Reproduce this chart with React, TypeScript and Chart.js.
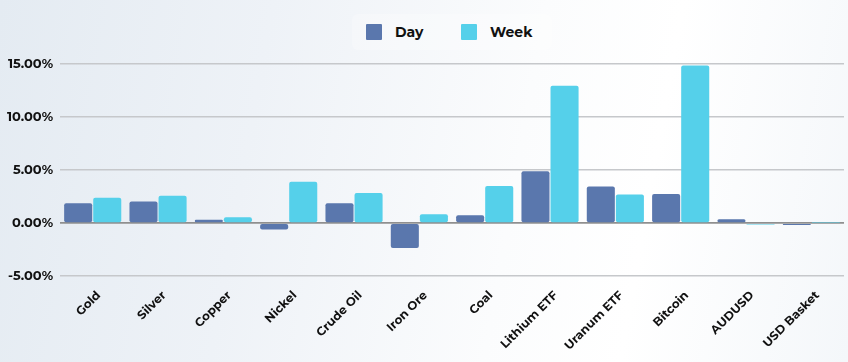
import React, { useEffect, useRef } from "react";
import { Chart, registerables } from "chart.js";

Chart.register(...registerables);

const categories = ["Gold", "Silver", "Copper", "Nickel", "Crude Oil", "Iron Ore", "Coal", "Lithium ETF", "Uranum ETF", "Bitcoin", "AUDUSD", "USD Basket"];
const dayValues = [1.87, 2.03, 0.31, -0.59, 1.87, -2.33, 0.75, 4.9, 3.45, 2.75, 0.37, -0.17];
const weekValues = [2.4, 2.59, 0.56, 3.9, 2.84, 0.84, 3.5, 12.95, 2.7, 14.85, -0.12, 0.05];
const seriesNames = ["Day", "Week"];
const seriesColors = ["#5a77ad", "#55d0ea"];

const font = "Montserrat, Poppins, 'Open Sans', sans-serif";

export default function App() {
  const ref = useRef<HTMLCanvasElement>(null);
  useEffect(() => {
    const chart = new Chart(ref.current!, {
      type: "bar",
      data: {
        labels: categories,
        datasets: [
          { label: seriesNames[0], data: dayValues, backgroundColor: seriesColors[0], borderRadius: 2, borderSkipped: false, barPercentage: 0.965, categoryPercentage: 0.89 },
          { label: seriesNames[1], data: weekValues, backgroundColor: seriesColors[1], borderRadius: 2, borderSkipped: false, barPercentage: 0.965, categoryPercentage: 0.89 },
        ],
      },
      options: {
        animation: false,
        responsive: false,
        layout: { padding: { top: 64, right: 4, left: 0, bottom: 5 } },
        plugins: {
          legend: { display: false },
          tooltip: { enabled: false },
        },
        scales: {
          x: {
            grid: { display: false },
            border: { display: false },
            ticks: {
              maxRotation: 45,
              minRotation: 45,
              padding: 4,
              labelOffset: 6,
              font: { family: font, size: 12, weight: "bold" },
              color: "#111",
            },
          },
          y: {
            min: -5,
            max: 15,
            border: { display: false },
            grid: {
              color: (ctx: any) => (ctx.tick && ctx.tick.value === 0 ? "#8f8f8f" : "#c6c8cb"),
              lineWidth: (ctx: any) => (ctx.tick && ctx.tick.value === 0 ? 1.8 : 1.5),
              drawTicks: false,
            },
            ticks: {
              stepSize: 5,
              padding: 7,
              font: { family: font, size: 13, weight: "bold" },
              color: "#111",
              callback: (v: any) => Number(v).toFixed(2) + "%",
            },
          },
        },
      },
    });
    return () => chart.destroy();
  }, []);

  const legendItem = (i: number, boxLeft: number, textLeft: number) => (
    <React.Fragment key={i}>
      <div style={{ position: "absolute", left: boxLeft, top: 24, width: 16, height: 16, background: seriesColors[i], borderRadius: 1 }} />
      <div style={{ position: "absolute", left: textLeft, top: 23, height: 18, lineHeight: "18px", fontFamily: font, fontWeight: 700, fontSize: 14, color: "#111" }}>
        {seriesNames[i]}
      </div>
    </React.Fragment>
  );

  return (
    <div
      style={{
        position: "fixed",
        left: 0,
        top: 0,
        width: 848,
        height: 362,
        overflow: "hidden",
        background: "linear-gradient(100deg, #e4ebf2 0%, #eef2f7 30%, #fbfcfd 60%, #ffffff 75%, #f4f7fa 100%)",
      }}
    >
      <div style={{ position: "absolute", left: 352, top: 14, width: 200, height: 36, background: "rgba(255,255,255,0.25)", borderRadius: 6 }} />
      {legendItem(0, 366, 395)}
      {legendItem(1, 461, 490)}
      <canvas ref={ref} width={848} height={362} style={{ display: "block", position: "absolute", left: 0, top: 0 }} />
    </div>
  );
}
